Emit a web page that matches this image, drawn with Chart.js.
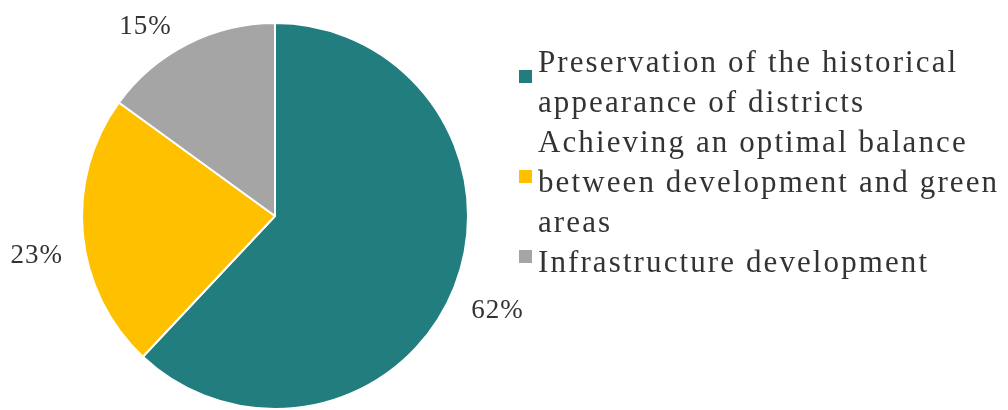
<!DOCTYPE html>
<html>
<head>
<meta charset="utf-8">
<script src="https://cdn.jsdelivr.net/npm/chart.js@4"></script>
<style>
    html, body { margin: 0; padding: 0; background: #fff; }
    #wrap { position: relative; width: 1008px; height: 410px; overflow: hidden; }
    #legend {
        position: absolute; left: 519px; top: 42px; width: 489px;
        font-family: "Liberation Serif", "Times New Roman", serif;
        font-size: 31px; line-height: 40px; color: #333;
        letter-spacing: 2.1px;
    }
    .item { display: flex; align-items: center; }
    .box { flex: 0 0 13px; height: 13px; margin-right: 6px; margin-top: -11px; }
</style>
</head>
<body>
<div id="wrap">
    <canvas id="chart" width="1008" height="410"></canvas>
    <div id="legend"></div>
</div>
<script>
// Survey shares
const categories = [
    'Preservation of the historical appearance of districts',
    'Achieving an optimal balance between development and green areas',
    'Infrastructure development'
];
const shares = [62, 23, 15];
const sliceColors = ['#217D7E', '#FFC000', '#A5A5A5'];

// nudge for each outside label, from the slice edge (px)
const labelNudge = [[43, 24], [-46, 22], [-42, -17]];

const outsideLabels = {
    id: 'outsideLabels',
    afterDatasetsDraw(chart) {
        const ctx = chart.ctx;
        const meta = chart.getDatasetMeta(0);
        ctx.save();
        ctx.font = '27px "Liberation Serif", "Times New Roman", serif';
        ctx.letterSpacing = '1px';
        ctx.fillStyle = '#333';
        ctx.textAlign = 'center';
        ctx.textBaseline = 'middle';
        meta.data.forEach((arc, i) => {
            const mid = (arc.startAngle + arc.endAngle) / 2;
            const x = arc.x + Math.cos(mid) * arc.outerRadius + labelNudge[i][0];
            const y = arc.y + Math.sin(mid) * arc.outerRadius + labelNudge[i][1];
            ctx.fillText(shares[i] + '%', x, y);
        });
        ctx.restore();
    }
};

new Chart(document.getElementById('chart'), {
    type: 'pie',
    data: {
        labels: categories,
        datasets: [{
            data: shares,
            backgroundColor: sliceColors,
            borderColor: '#ffffff',
            borderWidth: 2
        }]
    },
    options: {
        responsive: false,
        animation: false,
        layout: { padding: { top: 22, bottom: 0, left: 0, right: 458 } },
        plugins: {
            legend: { display: false },
            tooltip: { enabled: false }
        }
    },
    plugins: [outsideLabels]
});

// html legend
const legend = document.getElementById('legend');
categories.forEach((name, i) => {
    const row = document.createElement('div');
    row.className = 'item';
    const box = document.createElement('span');
    box.className = 'box';
    box.style.background = sliceColors[i];
    const txt = document.createElement('span');
    txt.textContent = name;
    row.appendChild(box);
    row.appendChild(txt);
    legend.appendChild(row);
});
</script>
</body>
</html>
